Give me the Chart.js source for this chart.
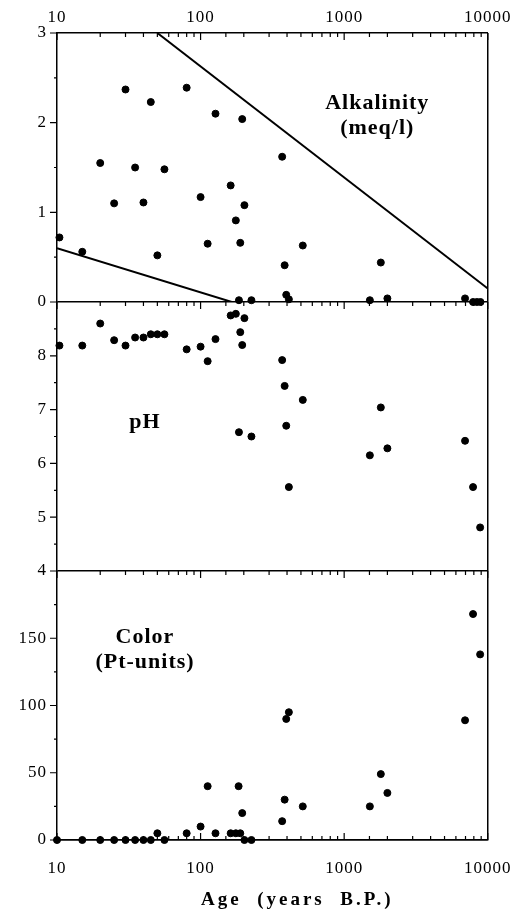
<!DOCTYPE html>
<html>
<head>
<meta charset="utf-8">
<script src="https://cdn.jsdelivr.net/npm/chart.js@4.4.1/dist/chart.umd.min.js"></script>
<style>
  body { margin: 0; background: #fff; }
  canvas { display: block; }
</style>
</head>
<body>
<canvas id="chemChart" width="527" height="913"></canvas>
<script>
// Data (age in years B.P.)
const alkAge = [10.4, 15, 20, 25, 30, 35, 40, 45, 50, 56, 80, 100, 112, 127, 162, 176, 185, 189, 195, 202, 226, 370, 385, 395, 412, 515, 1510, 1800, 2000, 6950, 7900, 8400, 8900];
const alkValue = [0.72, 0.56, 1.55, 1.10, 2.37, 1.50, 1.11, 2.23, 0.52, 1.48, 2.39, 1.17, 0.65, 2.10, 1.30, 0.91, 0.02, 0.66, 2.04, 1.08, 0.02, 1.62, 0.41, 0.08, 0.03, 0.63, 0.02, 0.44, 0.04, 0.04, 0, 0, 0];

const upperLimitAge = [50, 10000];
const upperLimitAlk = [3, 0.15];
const lowerLimitAge = [10, 165];
const lowerLimitAlk = [0.6, 0];

const phAge = [10.4, 15, 20, 25, 30, 35, 40, 45, 50, 56, 80, 100, 112, 127, 162, 176, 185, 189, 195, 202, 226, 370, 385, 395, 412, 515, 1510, 1800, 2000, 6950, 7900, 8850];
const phValue = [8.19, 8.19, 8.60, 8.29, 8.19, 8.34, 8.34, 8.40, 8.40, 8.40, 8.12, 8.17, 7.90, 8.31, 8.75, 8.78, 6.58, 8.44, 8.20, 8.70, 6.50, 7.92, 7.44, 6.70, 5.56, 7.18, 6.15, 7.04, 6.28, 6.42, 5.56, 4.81];

const colorAge = [10, 15, 20, 25, 30, 35, 40, 45, 50, 56, 80, 100, 112, 127, 162, 176, 184, 189, 195, 202, 226, 370, 385, 395, 412, 515, 1510, 1800, 2000, 6950, 7900, 8850];
const colorValue = [0, 0, 0, 0, 0, 0, 0, 0, 5, 0, 5, 10, 40, 5, 5, 5, 40, 5, 20, 0, 0, 14, 30, 90, 95, 25, 25, 49, 35, 89, 168, 138];

const decadeLabels = [10, 100, 1000, 10000];
const panelTitles = [['Alkalinity', '(meq/l)'], ['pH'], ['Color', '(Pt-units)']];
const xTitle = 'Age  (years  B.P.)';

const serif = '"Liberation Serif", "Times New Roman", serif';

function pairs(xs, ys) {
    return xs.map((x, i) => ({ x: x, y: ys[i] }));
}

function isDecade(v) {
    return decadeLabels.some(d => Math.abs(v - d) < 1e-6);
}

// tick marks (inward on x edges, outward on y), panel names and the axis title
const panelDecor = {
    id: 'panelDecor',
    beforeDraw(chart) {
        chart.ctx.letterSpacing = '1px';   // the scan is a bit wide
    },
    afterDraw(chart) {
        const ctx = chart.ctx;
        const xs = chart.scales.x;
        const area = chart.chartArea;
        const panels = [chart.scales.yAlk, chart.scales.yPh, chart.scales.yCol];
        ctx.save();
        ctx.setLineDash([]);
        ctx.strokeStyle = '#000';
        ctx.lineWidth = 1.2;
        ctx.beginPath();
        xs.ticks.forEach(t => {
            const px = xs.getPixelForValue(t.value);
            const len = isDecade(t.value) ? 7 : 4;
            panels.forEach(s => {
                ctx.moveTo(px, s.top);
                ctx.lineTo(px, s.top + len);
            });
            ctx.moveTo(px, area.bottom);
            ctx.lineTo(px, area.bottom - len);
        });
        panels.forEach(s => {
            s.ticks.forEach(t => {
                const py = s.getPixelForValue(t.value);
                const len = t.label === '' ? 3 : 7;
                ctx.moveTo(area.left - len, py);
                ctx.lineTo(area.left, py);
            });
        });
        ctx.stroke();

        // panel names, anchored in data space
        const anchors = [
            { scale: 'yAlk', x: 1700, y: 2.22 },
            { scale: 'yPh', x: 41, y: 6.76 },
            { scale: 'yCol', x: 41, y: 151 }
        ];
        ctx.fillStyle = '#000';
        ctx.font = 'bold 22px ' + serif;
        ctx.letterSpacing = '1px';
        ctx.textAlign = 'center';
        ctx.textBaseline = 'middle';
        anchors.forEach((a, i) => {
            const px = xs.getPixelForValue(a.x);
            const py = chart.scales[a.scale].getPixelForValue(a.y);
            panelTitles[i].forEach((line, j) => {
                ctx.fillText(line, px, py + j * 25);
            });
        });

        ctx.font = 'bold 19px ' + serif;
        ctx.letterSpacing = '3px';
        ctx.textAlign = 'left';
        ctx.fillText(xTitle, 201, 900);
        ctx.restore();
        ctx.letterSpacing = '0px';
    }
};

function yAxis(min, max, step, labelFn, baseline) {
    return {
        type: 'linear',
        position: 'left',
        stack: 'panels',
        stackWeight: 1,
        min: min,
        max: max,
        afterFit: s => { s.width = 57; },
        border: { display: true, color: '#000', width: 1.5 },
        grid: {
            drawOnChartArea: true,
            drawTicks: false,
            color: c => (c.tick && c.tick.value === baseline) ? '#000' : 'rgba(0,0,0,0)',
            lineWidth: 1.5
        },
        ticks: {
            stepSize: step,
            autoSkip: false,
            color: '#000',
            padding: 10,
            font: { family: serif, size: 17 },
            callback: labelFn
        }
    };
}

const dot = { pointRadius: 3.5, pointHoverRadius: 3.5, pointBackgroundColor: '#000', pointBorderColor: '#000', showLine: false, clip: false };

new Chart(document.getElementById('chemChart'), {
    type: 'scatter',
    data: {
        datasets: [
            Object.assign({ label: 'Alkalinity', data: pairs(alkAge, alkValue), yAxisID: 'yAlk' }, dot),
            { label: 'upper', type: 'line', data: pairs(upperLimitAge, upperLimitAlk), yAxisID: 'yAlk', borderColor: '#000', borderWidth: 2, pointRadius: 0, fill: false },
            { label: 'lower', type: 'line', data: pairs(lowerLimitAge, lowerLimitAlk), yAxisID: 'yAlk', borderColor: '#000', borderWidth: 2, pointRadius: 0, fill: false },
            Object.assign({ label: 'pH', data: pairs(phAge, phValue), yAxisID: 'yPh' }, dot),
            Object.assign({ label: 'Color', data: pairs(colorAge, colorValue), yAxisID: 'yCol' }, dot)
        ]
    },
    options: {
        responsive: false,
        animation: false,
        layout: { padding: { left: 0, right: 37, top: 0, bottom: 0 } },
        plugins: { legend: { display: false }, tooltip: { enabled: false } },
        scales: {
            x: {
                type: 'logarithmic',
                position: 'bottom',
                min: 10,
                max: 10000,
                afterFit: s => { s.height = 73; },
                border: { display: true, color: '#000', width: 1.5 },
                grid: {
                    drawTicks: false,
                    color: c => (c.tick && Math.abs(c.tick.value - 10000) < 1e-6) ? '#000' : 'rgba(0,0,0,0)',
                    lineWidth: 1.5
                },
                ticks: {
                    autoSkip: false,
                    maxRotation: 0,
                    color: '#000',
                    padding: 18,
                    font: { family: serif, size: 17 },
                    callback: v => isDecade(v) ? String(Math.round(v)) : ''
                }
            },
            x2: {
                type: 'logarithmic',
                position: 'top',
                min: 10,
                max: 10000,
                afterFit: s => { s.height = 33; },
                border: { display: true, color: '#000', width: 1.5 },
                grid: { display: false, drawTicks: false },
                ticks: {
                    autoSkip: false,
                    maxRotation: 0,
                    color: '#000',
                    padding: 5,
                    font: { family: serif, size: 17 },
                    callback: v => isDecade(v) ? String(Math.round(v)) : ''
                }
            },
            yCol: yAxis(0, 200, 25, v => (v % 50 === 0 && v < 200) ? v : '', 0),
            yPh: yAxis(4, 9, 0.5, v => (Number.isInteger(v) && v < 9) ? v : '', 4),
            yAlk: yAxis(0, 3, 0.5, v => Number.isInteger(v) ? v : '', 0)
        }
    },
    plugins: [panelDecor]
});
</script>
</body>
</html>
